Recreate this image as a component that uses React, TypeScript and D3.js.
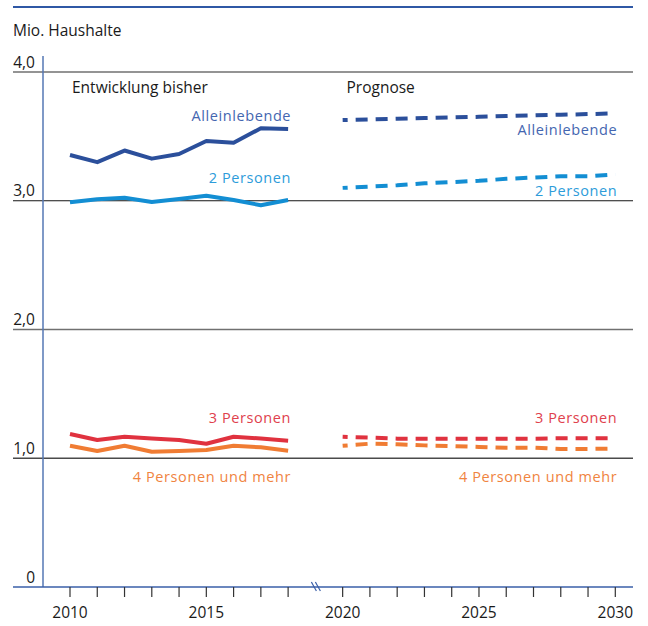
import React from "react";
import * as d3 from "d3";

// Household counts in millions, by household size
const histYears = [2010, 2011, 2012, 2013, 2014, 2015, 2016, 2017, 2018];
const progYears = [2020, 2021, 2022, 2023, 2024, 2025, 2026, 2027, 2028, 2029, 2030];

const alleinHist = [3.355, 3.3, 3.39, 3.327, 3.363, 3.464, 3.451, 3.563, 3.557];
const zweiHist = [2.988, 3.011, 3.024, 2.99, 3.014, 3.039, 3.006, 2.965, 3.006];
const dreiHist = [1.188, 1.142, 1.167, 1.153, 1.142, 1.113, 1.167, 1.153, 1.136];
const vierHist = [1.097, 1.056, 1.097, 1.051, 1.056, 1.064, 1.097, 1.085, 1.059];

const alleinProg = [3.627, 3.632, 3.637, 3.642, 3.647, 3.652, 3.658, 3.663, 3.668, 3.673, 3.679];
const zweiProg = [3.1, 3.11, 3.12, 3.135, 3.145, 3.155, 3.17, 3.18, 3.19, 3.19, 3.205];
const dreiProg = [1.167, 1.16, 1.152, 1.152, 1.152, 1.152, 1.152, 1.152, 1.155, 1.155, 1.155];
const vierProg = [1.097, 1.113, 1.108, 1.1, 1.095, 1.088, 1.082, 1.082, 1.072, 1.072, 1.075];

const seriesNames = ["Alleinlebende", "2 Personen", "3 Personen", "4 Personen und mehr"];
const yTicks = [0, 1, 2, 3, 4];
const yTickLabels = ["0", "1,0", "2,0", "3,0", "4,0"];
const xTickYears = [2010, 2011, 2012, 2013, 2014, 2015, 2016, 2017, 2018, 2020, 2021, 2022, 2023, 2024, 2025, 2026, 2027, 2028, 2029, 2030];
const xLabelYears = [2010, 2015, 2020, 2025, 2030];
const breakYear = 2019;

const FONT = "'Open Sans', sans-serif";
const TEXT = "#1a1a1a";
const AXIS_BLUE = "#3a5fa8";

const series = [
  { name: seriesNames[0], hist: alleinHist, prog: alleinProg, line: "#2b4f9b", label: "#4466b0" },
  { name: seriesNames[1], hist: zweiHist, prog: zweiProg, line: "#138ed3", label: "#2d9cda" },
  { name: seriesNames[2], hist: dreiHist, prog: dreiProg, line: "#e0323f", label: "#e0414d" },
  { name: seriesNames[3], hist: vierHist, prog: vierProg, line: "#f07c33", label: "#f0843f" },
];

export default function App() {
  const W = 648;
  const H = 626;
  const left = 13;
  const right = 633;

  const x = d3.scaleLinear().domain([2010, 2030]).range([70, 615.3]);
  const y = d3.scaleLinear().domain([0, 4]).range([587, 72]);

  const line = d3
    .line<[number, number]>()
    .x((d) => x(d[0]))
    .y((d) => y(d[1]));

  const histLabelX = x(2018) + 3;
  const progLabelX = x(2030) + 2;

  // label baselines for each series (history / forecast)
  const histLabelY = [121, 183, 423, 481.5];
  const progLabelY = [135, 196, 423, 481.5];

  const gridColor = (v: number) => (v === 3 ? "#151515" : v === 1 ? "#4a4a4a" : "#707070");

  return (
    <svg
      width={W}
      height={H}
      style={{ position: "absolute", left: 0, top: 0, background: "#fff" }}
      fontFamily={FONT}
    >
      {/* top rule */}
      <line x1={left} x2={right} y1={7} y2={7} stroke="#2f58a5" strokeWidth={2} />

      <text x={left} y={36} fontSize={15.5} fill={TEXT}>
        Mio. Haushalte
      </text>

      {/* horizontal gridlines */}
      {yTicks
        .filter((v) => v > 0)
        .map((v) => (
          <line
            key={`g${v}`}
            x1={left}
            x2={right}
            y1={y(v)}
            y2={y(v)}
            stroke={gridColor(v)}
            strokeWidth={v === 3 ? 1.2 : 1.6}
          />
        ))}

      {/* y axis */}
      <line x1={43} x2={43} y1={56} y2={y(0)} stroke="#5577b5" strokeWidth={1.5} />
      {yTicks.map((v, i) => (
        <text key={`yl${v}`} x={35} y={y(v) - 4.5} fontSize={15.5} fill={TEXT} textAnchor="end">
          {yTickLabels[i]}
        </text>
      ))}

      {/* x axis */}
      <line x1={left} x2={right} y1={y(0)} y2={y(0)} stroke={AXIS_BLUE} strokeWidth={1.5} />
      {xTickYears.map((yr) => (
        <line key={`t${yr}`} x1={x(yr)} x2={x(yr)} y1={y(0)} y2={y(0) + 10} stroke="#333" strokeWidth={1.2} />
      ))}
      {xLabelYears.map((yr) => (
        <text key={`xl${yr}`} x={x(yr)} y={618} fontSize={15.5} fill={TEXT} textAnchor="middle">
          {yr}
        </text>
      ))}
      {/* axis break between the two periods */}
      {[0, 4].map((o) => (
        <line
          key={`b${o}`}
          x1={x(breakYear) - 4 + o}
          x2={x(breakYear) + 1 + o}
          y1={y(0) - 5}
          y2={y(0) + 4}
          stroke={AXIS_BLUE}
          strokeWidth={1.2}
        />
      ))}

      {/* section headings */}
      <text x={72} y={93} fontSize={15.5} fill={TEXT}>
        Entwicklung bisher
      </text>
      <text x={346.5} y={93} fontSize={15.5} fill={TEXT}>
        Prognose
      </text>

      {/* series */}
      {series.map((s, i) => {
        const histPts = histYears.map((yr, j) => [yr, s.hist[j]] as [number, number]);
        const progPts = progYears.map((yr, j) => [yr, s.prog[j]] as [number, number]);
        return (
          <g key={s.name}>
            <path d={line(histPts) || ""} fill="none" stroke={s.line} strokeWidth={4} strokeLinejoin="round" />
            <path
              d={line(progPts) || ""}
              fill="none"
              stroke={s.line}
              strokeWidth={4}
              strokeDasharray="12 8"
              strokeDashoffset={7}
            />
            <text
              x={histLabelX}
              y={histLabelY[i]}
              fontSize={14.5}
              letterSpacing={0.6}
              fill={s.label}
              textAnchor="end"
            >
              {s.name}
            </text>
            <text
              x={progLabelX}
              y={progLabelY[i]}
              fontSize={14.5}
              letterSpacing={0.6}
              fill={s.label}
              textAnchor="end"
            >
              {s.name}
            </text>
          </g>
        );
      })}
    </svg>
  );
}
